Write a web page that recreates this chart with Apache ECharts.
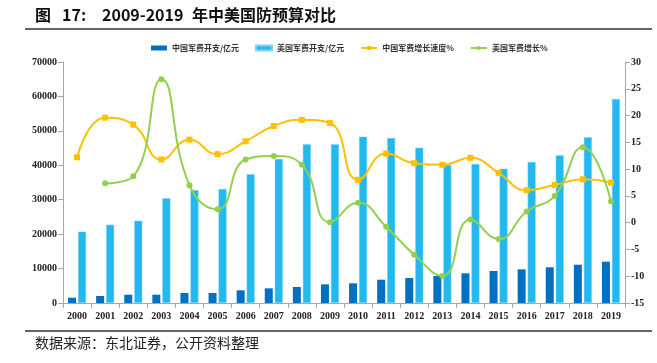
<!DOCTYPE html>
<html><head><meta charset="utf-8">
<script src="https://cdn.jsdelivr.net/npm/echarts@6/dist/echarts.min.js"></script>
<style>html,body{margin:0;padding:0;background:#fff}#c{width:657px;height:363px}</style>
</head><body><div id="c"></div>
<script>
const years = ['2000','2001','2002','2003','2004','2005','2006','2007','2008','2009','2010','2011','2012','2013','2014','2015','2016','2017','2018','2019'];
const chinaSpend = [1540,2030,2410,2410,2900,2900,3680,4260,4650,5420,5720,6770,7260,7840,8620,9290,9780,10370,11120,12000];
const usSpend = [20710,22740,23900,30410,32820,33110,37380,41820,46090,46090,48300,47920,45110,40080,40370,39010,40950,42900,48130,59250];
const chinaGrowth = [12.2,19.6,18.3,11.8,15.5,12.8,15.2,18.05,19.2,18.6,8.0,12.9,11.1,10.8,12.1,9.3,6.05,7.04,8.1,7.5];
const usGrowth = [null,7.35,8.65,26.8,7.0,2.5,11.8,12.45,10.8,0.1,3.7,-0.75,-6.0,-9.95,0.6,-3.05,2.1,5.0,14.1,4.0];
const seriesNames = ['中国军费开支/亿元','美国军费开支/亿元','中国军费增长速度%','美国军费增长%'];

const chart = echarts.init(document.getElementById('c'));
const axisLabel = {fontFamily:'Liberation Serif', fontWeight:'bold', fontSize:10, color:'#222'};
const titleFont = 'bold 16px "Noto Sans CJK SC"';
chart.setOption({
  animation:false,
  backgroundColor:'#fff',
  graphic:[
    {type:'text', x:35, y:15, style:{text:'图', font:titleFont, fill:'#111', verticalAlign:'middle'}},
    {type:'text', x:62, y:15, style:{text:'17:', font:titleFont, fill:'#111', verticalAlign:'middle'}},
    {type:'text', x:102, y:15, style:{text:'2009-2019', font:titleFont, fill:'#111', verticalAlign:'middle'}},
    {type:'text', x:192, y:15, style:{text:'年中美国防预算对比', font:titleFont, fill:'#111', verticalAlign:'middle'}},
    {type:'line', shape:{x1:25,y1:29,x2:652,y2:29}, style:{stroke:'#333',lineWidth:1.5}},
    {type:'line', shape:{x1:25,y1:331,x2:652,y2:331}, style:{stroke:'#333',lineWidth:1.5}},
    {type:'text', x:35, y:343, style:{text:'数据来源：东北证券，公开资料整理', font:'14px "Noto Sans CJK SC"', fill:'#222', verticalAlign:'middle'}}
  ],
  legend:{top:39, left:146, itemWidth:16, itemHeight:5, itemGap:16,
    textStyle:{fontFamily:'Noto Sans CJK SC', fontSize:8, color:'#333', fontWeight:'bold'},
    data:[
      {name:seriesNames[0], icon:'rect'},
      {name:seriesNames[1], icon:'rect'},
      {name:seriesNames[2]},
      {name:seriesNames[3]}
    ]},
  grid:{left:63, right:32, top:62, bottom:60},
  xAxis:{type:'category', data:years, boundaryGap:true,
    axisLine:{lineStyle:{color:'#a6a6a6'}},
    axisTick:{show:true, alignWithLabel:false, lineStyle:{color:'#a6a6a6'}},
    axisLabel:Object.assign({margin:8, interval:0}, axisLabel)},
  yAxis:[
    {type:'value', min:0, max:70000, interval:10000, position:'left',
      axisLine:{show:true, lineStyle:{color:'#a6a6a6'}}, axisTick:{show:true, lineStyle:{color:'#a6a6a6'}},
      splitLine:{show:false}, axisLabel:Object.assign({margin:6, formatter:function(v){return String(v);}}, axisLabel)},
    {type:'value', min:-15, max:30, interval:5, position:'right',
      axisLine:{show:true, lineStyle:{color:'#a6a6a6'}}, axisTick:{show:true, lineStyle:{color:'#a6a6a6'}},
      splitLine:{show:false}, axisLabel:Object.assign({margin:6}, axisLabel)}
  ],
  series:[
    {name:seriesNames[0], type:'bar', data:chinaSpend, barWidth:8, barGap:'25%', itemStyle:{color:'#0070C0'}},
    {name:seriesNames[1], type:'bar', data:usSpend, barWidth:8, barGap:'25%', itemStyle:{color:'#22B8F0', borderColor:'#7fd3f5', borderWidth:0.5}},
    {name:seriesNames[2], type:'line', yAxisIndex:1, data:chinaGrowth, smooth:true, symbol:'rect', symbolSize:6,
      lineStyle:{color:'#FFC000', width:2}, itemStyle:{color:'#FFC000'}},
    {name:seriesNames[3], type:'line', yAxisIndex:1, data:usGrowth, smooth:true, symbol:'circle', symbolSize:6,
      lineStyle:{color:'#92D050', width:2}, itemStyle:{color:'#92D050'}}
  ]
});
</script></body></html>
